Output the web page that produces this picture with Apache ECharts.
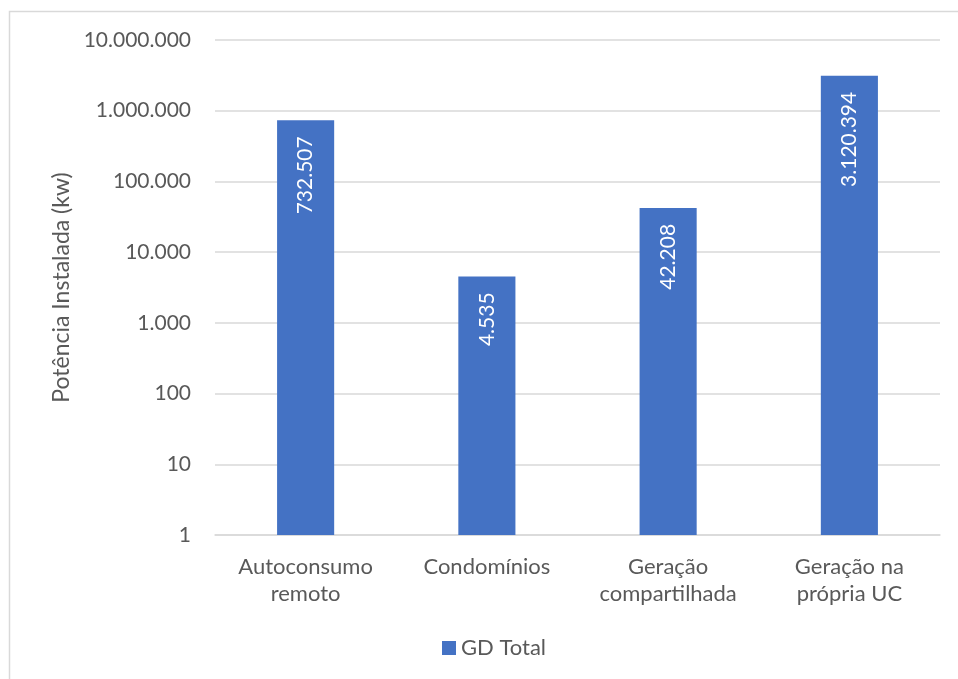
<!DOCTYPE html>
<html>
<head>
<meta charset="utf-8">
<script src="https://cdn.jsdelivr.net/npm/echarts@6/dist/echarts.min.js"></script>
<style>
  html, body { margin: 0; padding: 0; background: #fff; }
  #chart { width: 958px; height: 679px; }
</style>
</head>
<body>
<div id="chart"></div>
<script>
const categories = ['Autoconsumo\nremoto', 'Condomínios', 'Geração\ncompartilhada', 'Geração na\nprópria UC']
const gdTotal = [732507, 4535, 42208, 3120394]

const textColor = '#595959'
const fontFamily = 'Lato, "Open Sans", sans-serif'

// 1234567 -> 1.234.567
const fmt = v => String(Math.round(v)).replace(/\B(?=(\d{3})+(?!\d))/g, '.')

const chart = echarts.init(document.getElementById('chart'))

chart.setOption({
  animation: false,
  textStyle: { fontFamily: fontFamily, color: textColor },
  graphic: [{
    type: 'rect',
    shape: { x: 9.5, y: 11.5, width: 2000, height: 2000 },
    style: { fill: 'none', stroke: '#d9d9d9', lineWidth: 1.5 },
    silent: true
  }],
  grid: { left: 215, right: 18, top: 40, bottom: 144 },
  legend: {
    bottom: 15,
    left: 437,
    itemWidth: 14,
    itemHeight: 14,
    itemGap: 10,
    icon: 'rect',
    textStyle: { fontSize: 22, color: textColor, fontFamily: fontFamily },
    data: ['GD Total']
  },
  xAxis: {
    type: 'category',
    data: categories,
    axisTick: { show: false },
    axisLine: { lineStyle: { color: '#d9d9d9', width: 1.5 } },
    axisLabel: {
      color: textColor,
      fontSize: 22,
      lineHeight: 27,
      margin: 18,
      interval: 0
    }
  },
  yAxis: {
    type: 'log',
    logBase: 10,
    min: 1,
    max: 10000000,
    name: 'Potência Instalada (kw)',
    nameLocation: 'middle',
    nameGap: 142,
    nameTextStyle: { fontSize: 23, color: textColor },
    axisLine: { show: false },
    axisTick: { show: false },
    splitLine: { lineStyle: { color: '#d9d9d9', width: 1.5 } },
    axisLabel: {
      color: textColor,
      fontSize: 21,
      margin: 24,
      formatter: v => fmt(v)
    }
  },
  series: [{
    name: 'GD Total',
    type: 'bar',
    data: gdTotal,
    barWidth: '31.5%',
    itemStyle: { color: '#4472C4' },
    label: {
      show: true,
      position: 'insideTop',
      rotate: 90,
      align: 'right',
      verticalAlign: 'middle',
      distance: 16,
      color: '#ffffff',
      fontSize: 21,
      fontFamily: fontFamily,
      formatter: p => fmt(p.value)
    }
  }]
})
</script>
</body>
</html>
